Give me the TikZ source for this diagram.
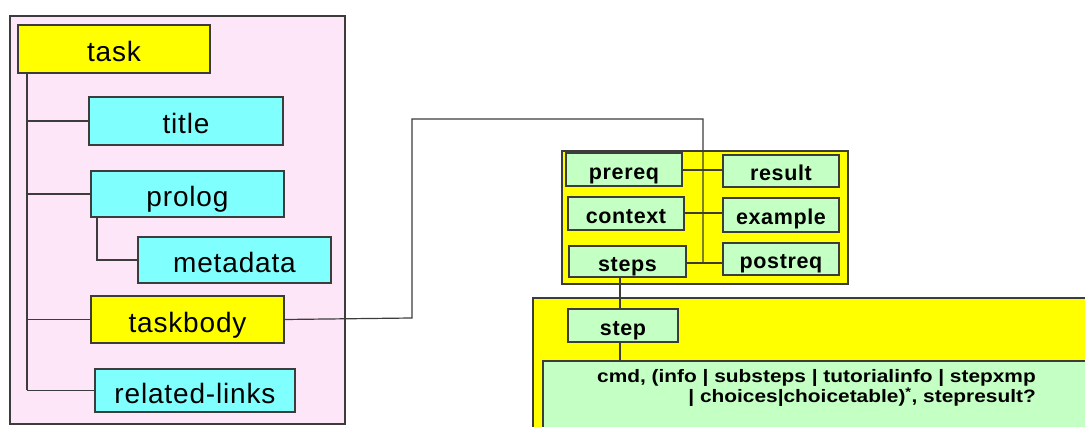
\documentclass[tikz,border=0pt]{standalone}
\usepackage{fontspec}
\setmainfont{Liberation Sans}
\newfontfamily\spacedfont[LetterSpace=3]{Liberation Sans}
\newfontfamily\stretchfont[FakeStretch=1.16]{Liberation Sans}
\definecolor{pinkbg}{RGB}{252,230,248}
\definecolor{ybox}{RGB}{255,255,0}
\definecolor{cbox}{RGB}{128,255,255}
\definecolor{gbox}{RGB}{196,255,196}
\definecolor{edge}{RGB}{60,60,60}
\tikzset{
  base/.style={draw=edge, line width=1.4pt, inner sep=0pt, anchor=center},
  lefttext/.style={font=\spacedfont\fontsize{28}{30}\selectfont, text height=26pt, text depth=0pt},
  ynode/.style={base, fill=ybox, lefttext},
  cnode/.style={base, fill=cbox, lefttext},
  gnode/.style={base, fill=gbox, font=\spacedfont\fontsize{21.5}{23}\selectfont\bfseries, text height=20pt, text depth=0pt},
  link/.style={draw=edge, line width=1.2pt},
  frame/.style={draw=edge, line width=1.5pt}
}
\begin{document}
\begin{tikzpicture}[x=1pt,y=-1pt]
\useasboundingbox (0,0) rectangle (1085,427);
\clip (0,0) rectangle (1085,427);
% left frame
\fill[pinkbg] (10,16) rectangle (345,424);
\draw[frame] (10,16) rectangle (345,424);
% trunk
\coordinate (trunktop) at (27,73);
\coordinate (trunkbot) at (27,390.5);
\draw[link] (trunktop) -- (trunkbot);
\node[ynode, minimum width=192pt, minimum height=48pt] (task) at (114,49) {task};
\node[cnode, minimum width=194pt, minimum height=48pt] (title) at (186,121) {title};
\node[cnode, minimum width=193pt, minimum height=46pt] (prolog) at (187.5,194) {prolog};
\node[cnode, minimum width=193pt, minimum height=46pt] (metadata) at (234.5,260) {metadata};
\node[ynode, minimum width=193pt, minimum height=47pt] (taskbody) at (187.5,319.5) {taskbody};
\node[cnode, minimum width=200pt, minimum height=43pt] (related) at (195,390.5) {related-links};
\draw[link] (trunktop |- title.west) -- (title.west);
\draw[link] (trunktop |- prolog.west) -- (prolog.west);
\draw[link] (trunktop |- taskbody.west) -- (taskbody.west);
\draw[link] (trunkbot) -- (related.west);
\coordinate (prologdrop) at (97,217);
\draw[link] (prologdrop) |- (metadata.west);
% right top group
\draw[frame, fill=ybox] (562,151) rectangle (848,284);
\coordinate (bend) at (412,318);
\coordinate (hubtop) at (703,119);
\coordinate (hubbot) at (703,263);
\draw[link] (taskbody.east) -- (bend) |- (hubtop) -- (hubbot);
\node[gnode, minimum width=116pt, minimum height=33pt] (prereq) at (624,169.5) {prereq};
\node[gnode, minimum width=116pt, minimum height=32pt] (result) at (781,171) {result};
\node[gnode, minimum width=116pt, minimum height=33pt] (context) at (626,213.5) {context};
\node[gnode, minimum width=116pt, minimum height=34pt] (example) at (781,215) {example};
\node[gnode, minimum width=117pt, minimum height=31pt] (steps) at (627.5,261.5) {steps};
\node[gnode, minimum width=116pt, minimum height=32pt] (postreq) at (781,259) {postreq};
\draw[link] (prereq.east |- 0,170) -- (result.west |- 0,170);
\draw[link] (context.east |- 0,213) -- (example.west |- 0,213);
\draw[link] (steps.east |- hubbot) -- (postreq.west |- hubbot);
% bottom group
\draw[frame, fill=ybox] (533,298) rectangle (1110,450);
\node[gnode, minimum width=110pt, minimum height=33pt] (step) at (623,325.5) {step};
\draw[link] (steps.south -| 620,0) -- (step.north -| 620,0);
\draw[frame, fill=gbox] (543,361) rectangle (1110,450);
\coordinate (boxtop) at (620,361);
\draw[link] (step.south -| boxtop) -- (boxtop);
\node[anchor=north east, align=right, inner sep=0pt,
      font=\stretchfont\bfseries\fontsize{18}{20.5}\selectfont] (content) at (1036,369)
  {cmd, (info | substeps | tutorialinfo | stepxmp\\| choices|choicetable)\textsuperscript{*}, stepresult?};
\end{tikzpicture}
\end{document}
